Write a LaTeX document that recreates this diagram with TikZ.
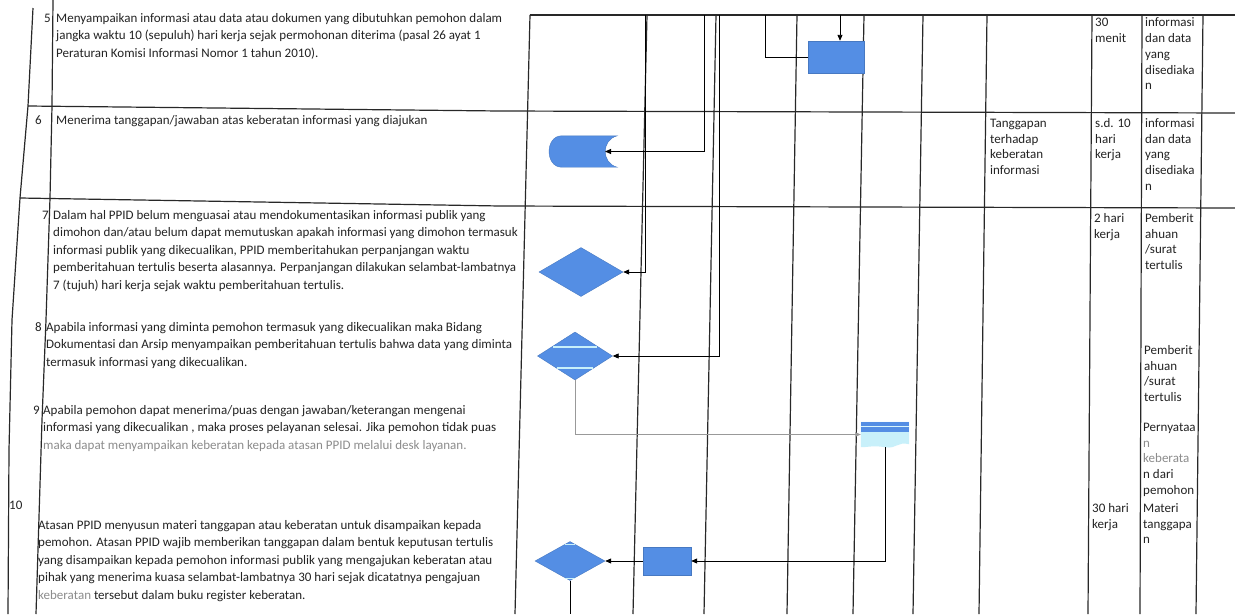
\documentclass[tikz,border=0pt]{standalone}
\usepackage{fontspec}
\setmainfont{Carlito}
\usetikzlibrary{shapes.geometric,arrows.meta}
\definecolor{shapeblue}{RGB}{84,142,228}
\definecolor{ink}{RGB}{35,35,35}
\definecolor{gridc}{RGB}{40,40,40}
\definecolor{lightcyan}{RGB}{200,240,250}
\definecolor{fade}{RGB}{140,140,140}
\begin{document}
\begin{tikzpicture}[x=1pt,y=-1pt,
 tline/.style={draw=gridc,line width=1.2pt},
 conn/.style={draw=black,line width=0.9pt},
 arr/.style={conn,-{Triangle[length=6pt,width=5pt]}},
 garr/.style={draw=gray!80,line width=0.6pt,-{Triangle[length=5pt,width=4pt]}},
 desc/.style={anchor=north west,inner sep=0pt,align=left,text=ink,font=\fontsize{13}{17.5}\selectfont},
 num/.style={anchor=base west,inner sep=0pt,text=ink,font=\fontsize{13}{17.5}\selectfont},
 cell/.style={anchor=north west,inner sep=0pt,align=left,text=ink,font=\fontsize{13}{15.8}\selectfont},
 bluebox/.style={rectangle,fill=shapeblue,draw=shapeblue!85!black,line width=0.4pt,inner sep=0pt},
 dia/.style={diamond,fill=shapeblue,draw=shapeblue!85!black,line width=0.4pt,inner sep=0pt},
 ghost/.style={rectangle,draw=none,fill=none,inner sep=0pt},
]
\useasboundingbox (0,0) rectangle (1235,614);
\fill[white] (0,0) rectangle (1235,614);

% ---------- table lines ----------
\draw[tline] (33,8) -- (28,106) -- (20,198) -- (12,320) -- (9,450) -- (8,614);
\draw[tline] (53,0) -- (52,106) -- (50,198) -- (46,320) -- (42,420) -- (36,614);
\draw[tline] (28,106) -- (500,111) -- (1235,113);
\draw[tline] (20,198) -- (500,206) -- (1235,208);
\draw[tline] (530,15) -- (1235,15);
\foreach \a/\b in {530/515, 647/633, 716/704, 797/787, 864/853, 923/913, 987/979, 1092/1088, 1142/1140, 1203/1196}
  \draw[tline] (\a,15) -- (\b,614);

% ---------- left column texts ----------
\node[num] (n5) at (44,22) {5};
\node[desc] (t5) at (56,9.75) {\strut Menyampaikan informasi atau data atau dokumen yang dibutuhkan pemohon dalam\\
jangka waktu 10 (sepuluh) hari kerja sejak permohonan diterima (pasal 26 ayat 1\\
Peraturan Komisi Informasi Nomor 1 tahun 2010).};

\node[num] (n6) at (35,124) {6};
\node[desc] (t6) at (56,111.75) {\strut Menerima tanggapan/jawaban atas keberatan informasi yang diajukan};

\node[num] (n7) at (42,219) {7};
\node[desc] (t7) at (53,206.75) {\strut Dalam hal PPID belum menguasai atau mendokumentasikan informasi publik yang\\
dimohon dan/atau belum dapat memutuskan apakah informasi yang dimohon termasuk\\
informasi publik yang dikecualikan, PPID memberitahukan perpanjangan waktu\\
pemberitahuan tertulis beserta alasannya. Perpanjangan dilakukan selambat-lambatnya\\
7 (tujuh) hari kerja sejak waktu pemberitahuan tertulis.};

\node[num] (n8) at (35,331) {8};
\node[desc] (t8) at (46,318.75) {\strut Apabila informasi yang diminta pemohon termasuk yang dikecualikan maka Bidang\\
Dokumentasi dan Arsip menyampaikan pemberitahuan tertulis bahwa data yang diminta\\
termasuk informasi yang dikecualikan.};

\node[num] (n9) at (33,414) {9};
\node[desc] (t9) at (43,401.75) {\strut Apabila pemohon dapat menerima/puas dengan jawaban/keterangan mengenai\\
informasi yang dikecualikan , maka proses pelayanan selesai. Jika pemohon tidak puas\\
\textcolor{fade}{maka dapat menyampaikan keberatan kepada atasan PPID melalui desk layanan.}};

\node[num] (n10) at (9,509) {10};
\node[desc] (t10) at (38,516.75) {\strut Atasan PPID menyusun materi tanggapan atau keberatan untuk disampaikan kepada\\
pemohon. Atasan PPID wajib memberikan tanggapan dalam bentuk keputusan tertulis\\
yang disampaikan kepada pemohon informasi publik yang mengajukan keberatan atau\\
pihak yang menerima kuasa selambat-lambatnya 30 hari sejak dicatatnya pengajuan\\
\textcolor{fade}{keberatan} tersebut dalam buku register keberatan.};

% ---------- right column texts ----------
\node[cell] (h5) at (1095,15.5) {\strut 30\\menit};
\node[cell] (i5) at (1145,15.5) {\strut informasi\\dan data\\yang\\disediaka\\n};
\node[cell] (g6) at (990,116) {\strut Tanggapan\\terhadap\\keberatan\\informasi};
\node[cell] (h6) at (1095,116) {\strut s.d. 10\\hari\\kerja};
\node[cell] (i6) at (1145,116) {\strut informasi\\dan data\\yang\\disediaka\\n};
\node[cell] (h7) at (1094,211) {\strut 2 hari\\kerja};
\node[cell] (i7) at (1145,211) {\strut Pemberit\\ahuan\\/surat\\tertulis};
\node[cell] (i8) at (1144,343) {\strut Pemberit\\ahuan\\/surat\\tertulis};
\node[cell] (i9) at (1143,420) {\strut Pernyataa\\\textcolor{fade}{n}\\\textcolor{fade}{keberata}\\n dari\\pemohon};
\node[cell] (h10) at (1092,501) {\strut 30 hari\\kerja};
\node[cell] (i10) at (1143,501) {\strut Materi\\tanggapa\\n};

% ---------- flowchart shapes ----------
\node[bluebox,minimum width=56pt,minimum height=32pt] (r5) at (836,57) {};

\node[ghost,minimum width=68pt,minimum height=31pt] (sd) at (583,151.5) {};
\filldraw[fill=shapeblue,draw=shapeblue!85!black,line width=0.4pt]
  ([xshift=13pt]sd.north west) -- (sd.north east)
  .. controls +(-16,4) and +(-16,-4) .. (sd.south east)
  -- ([xshift=13pt]sd.south west)
  .. controls +(-17,0) and +(-17,0) .. ([xshift=13pt]sd.north west) -- cycle;
\coordinate (sdin) at (605,151.5);

\node[dia,minimum width=84pt,minimum height=49pt] (d7) at (581,272) {};
\node[dia,minimum width=75pt,minimum height=48pt] (d8) at (575,356) {};
\draw[lightcyan,line width=1.2pt] (553,347) -- (597,347) (557,368) -- (593,368);

\node[ghost,minimum width=48pt,minimum height=25pt] (doc) at (885,434.5) {};
\fill[lightcyan] (doc.north west) -- (doc.north east) -- ([yshift=3pt]doc.south east)
  .. controls +(-12,-3) and +(12,2) .. (doc.south) .. controls +(-12,-2) and +(8,0) .. (doc.south west) -- cycle;
\fill[shapeblue] (doc.north west) rectangle ([yshift=15pt]doc.south east);
\draw[lightcyan!70!white,line width=0.8pt] ([yshift=-5pt]doc.north west) -- ([yshift=-5pt]doc.north east);

\node[bluebox,minimum width=48pt,minimum height=28pt] (r10) at (667,561) {};
\node[dia,minimum width=70pt,minimum height=39pt] (d10) at (570,561) {};
\draw[lightcyan,line width=1pt] (565,544) -- (575,544) (565,578) -- (575,578);

% ---------- connectors ----------
\coordinate (c1) at (704,15);
\coordinate (c2) at (645,15);
\coordinate (c3) at (719,15);
\coordinate (c4) at (765,15);
\coordinate (c5) at (840,15);
\coordinate (c10) at (570,614);

\draw[arr] (c1) |- (sdin);
\draw[arr] (c2) |- (d7.east);
\draw[arr] (c3) |- (d8.east);
\draw[conn] (c4) |- (r5.west);
\draw[arr] (c5) -- (c5 |- r5.north);
\draw[garr] (d8.south) |- (doc.west);
\draw[arr] (doc.south) |- (r10.east);
\draw[arr] (r10.west) -- (d10.east);
\draw[conn] (d10.south) -- (c10);
\end{tikzpicture}
\end{document}
